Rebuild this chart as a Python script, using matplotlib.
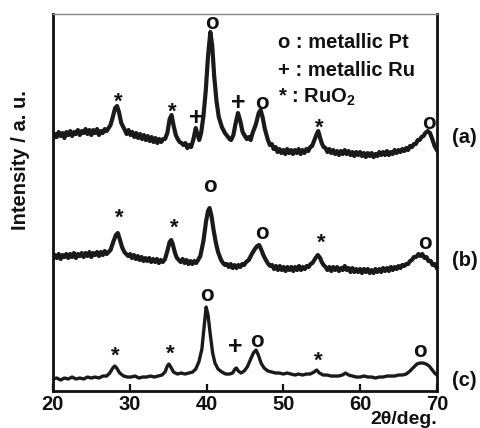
import matplotlib
matplotlib.use("Agg")
import matplotlib.pyplot as plt

plt.rcParams['font.family'] = ['Liberation Sans', 'DejaVu Sans']
plt.rcParams['font.weight'] = 'bold'
plt.rcParams['mathtext.fontset'] = 'custom'
plt.rcParams['mathtext.rm'] = 'Liberation Sans:bold'
plt.rcParams['mathtext.bf'] = 'Liberation Sans:bold'

# pattern (a), 2theta vs offset intensity (arbitrary units)
a_x = [20.0, 20.25, 20.5, 20.75, 21.0, 21.25, 21.5, 21.75, 22.0, 22.25, 22.5, 22.75, 23.0,
       23.25, 23.5, 23.75, 24.0, 24.25, 24.5, 24.75, 25.0, 25.25, 25.5, 25.75, 26.0, 26.25,
       26.5, 26.75, 27.0,
       27.5, 27.8, 28.1, 28.35, 28.6, 28.9, 29.3, 29.6, 29.85, 30.1, 30.35, 30.6, 30.85,
       31.1, 31.35, 31.6, 31.85, 32.1, 32.35, 32.6, 32.85, 33.1, 33.35, 33.6, 33.85, 34.1,
       34.35, 34.6, 34.9, 35.2, 35.45, 35.7, 36.0, 36.25, 36.5, 36.75, 37.0, 37.25, 37.5,
       37.75, 38.0, 38.3, 38.6, 38.85, 39.05, 39.3, 39.6, 39.9, 40.2, 40.5, 40.75, 41.0,
       41.3, 41.6, 42.0, 42.2, 42.4, 42.6, 42.8, 43.0, 43.2, 43.5, 43.8, 44.1, 44.4, 44.7,
       45.0, 45.25, 45.5, 45.75, 46.0, 46.4, 46.8, 47.05, 47.3, 47.6,
       48.0, 48.25, 48.5, 48.75, 49.0, 49.25, 49.5, 49.75, 50.0, 50.25, 50.5, 50.75, 51.0,
       51.25, 51.5, 51.75, 52.0, 52.25, 52.5, 52.75, 53.0, 53.25, 53.5, 53.75, 54.0, 54.3,
       54.55, 54.8, 55.0, 55.25, 55.5, 55.75, 56.0, 56.25, 56.5, 56.75, 57.0, 57.25, 57.5,
       57.75, 58.0, 58.25, 58.5, 58.75, 59.0, 59.25, 59.5, 59.75, 60.0, 60.25, 60.5, 60.75,
       61.0, 61.25, 61.5, 61.75, 62.0, 62.25, 62.5, 62.75, 63.0, 63.25, 63.5, 63.75, 64.0,
       64.25, 64.5, 64.75, 65.0, 65.25, 65.5, 65.75, 66.0, 66.25, 66.5, 66.75, 67.0, 67.25,
       67.5, 67.75, 68.0, 68.25, 68.5, 68.8, 69.1, 69.4, 69.7, 70.0]
a_y = [252, 257, 254, 259, 255, 258, 253, 259, 256, 260, 255, 259, 257,
       261, 256, 260, 258, 262, 257, 261, 256, 261, 258, 262, 256, 260,
       258, 262, 260,
       266, 274, 283, 285, 279, 268, 262, 257, 261, 256, 259, 254, 258,
       253, 257, 252, 256, 251, 255, 250, 254, 249, 253, 248, 252, 249,
       252, 252, 258, 272, 276, 266, 256, 252, 249, 248, 246, 248, 243,
       246, 244, 252, 263, 256, 251, 258, 275, 300, 335, 359, 345, 315,
       290, 274, 264, 261, 258, 256, 254, 252, 251, 256, 268, 278, 270, 259,
       255, 252, 254, 251, 258, 266, 278, 281, 274, 262,
       251, 246, 247, 242, 244, 239, 242, 238, 241, 237, 242, 238, 241,
       237, 241, 238, 242, 237, 241, 238, 242, 240, 244, 245, 250, 256,
       260, 253, 248, 244, 243, 239, 242, 238, 241, 237, 240, 236, 240,
       237, 241, 237, 240, 236, 239, 235, 239, 236, 239, 235, 238, 234,
       238, 235, 238, 234, 237, 235, 239, 236, 239, 236, 240, 236, 239,
       237, 241, 238, 241, 239, 242, 240, 243, 241, 245, 244, 247, 247,
       251, 251, 254, 255, 258, 260, 258, 252, 245, 241]

# pattern (b)
b_x = [20.0, 20.25, 20.5, 20.75, 21.0, 21.25, 21.5, 21.75, 22.0, 22.25, 22.5, 22.75, 23.0,
       23.25, 23.5, 23.75, 24.0, 24.25, 24.5, 24.75, 25.0, 25.25, 25.5, 25.75, 26.0, 26.25,
       26.5, 26.75, 27.0, 27.25,
       27.5, 27.9, 28.2, 28.45, 28.7, 29.0, 29.3, 29.55, 29.8, 30.05, 30.3, 30.55, 30.8,
       31.05, 31.3, 31.55, 31.8, 32.05, 32.3, 32.55, 32.8, 33.05, 33.3, 33.55, 33.8, 34.05,
       34.3, 34.6, 34.9, 35.2, 35.4, 35.6, 35.9, 36.15, 36.4, 36.65, 36.9, 37.15, 37.4,
       37.65, 37.9, 38.15, 38.4, 38.65, 38.9, 39.2, 39.6, 39.95, 40.2, 40.4, 40.65, 40.9,
       41.2, 41.5, 41.9, 42.15, 42.4, 42.65, 42.9, 43.15, 43.4, 43.65, 43.9, 44.15, 44.4,
       44.65, 44.9, 45.15, 45.5, 45.9, 46.3, 46.6, 46.85, 47.1, 47.4, 47.8, 48.05, 48.3,
       48.55, 48.8, 49.05, 49.3, 49.55, 49.8, 50.05, 50.3, 50.55, 50.8, 51.05, 51.3, 51.55,
       51.8, 52.05, 52.3, 52.55, 52.8, 53.05, 53.3, 53.55, 53.8, 54.2, 54.5, 54.8, 55.0,
       55.25, 55.5, 55.75, 56.0, 56.25, 56.5, 56.75, 57.0, 57.25, 57.5, 57.75, 58.0, 58.25,
       58.5, 58.75, 59.0, 59.25, 59.5, 59.75, 60.0, 60.25, 60.5, 60.75, 61.0, 61.25, 61.5,
       61.75, 62.0, 62.25, 62.5, 62.75, 63.0, 63.25, 63.5, 63.75, 64.0, 64.25, 64.5, 64.75,
       65.0, 65.25, 65.5, 65.75, 66.0, 66.25, 66.5, 66.75, 67.0, 67.3, 67.6, 67.85, 68.1,
       68.4, 68.65, 68.9, 69.2, 69.45, 69.7, 70.0]
b_y = [132, 136, 133, 137, 132, 136, 134, 137, 133, 137, 134, 138, 133,
       137, 135, 138, 134, 138, 135, 139, 134, 138, 136, 139, 135, 139,
       136, 140, 137, 139,
       141, 150, 156, 158, 152, 144, 139, 137, 135, 137, 133, 136, 132,
       135, 131, 134, 130, 133, 130, 133, 129, 132, 129, 132, 128, 131,
       129, 132, 140, 149, 151, 147, 138, 133, 131, 129, 132, 128, 131,
       127, 130, 127, 130, 128, 131, 135, 150, 170, 180, 183, 175, 162,
       149, 139, 131, 128, 126, 127, 124, 127, 123, 126, 123, 126, 124,
       127, 126, 129, 131, 137, 142, 145, 146, 142, 136, 130, 127, 125,
       126, 122, 125, 121, 125, 121, 124, 120, 124, 121, 124, 120, 124,
       121, 125, 121, 124, 122, 125, 124, 127, 128, 133, 136, 133, 129,
       126, 124, 121, 124, 120, 124, 121, 124, 120, 123, 121, 125, 121,
       123, 119, 123, 119, 122, 119, 122, 118, 122, 119, 122, 118, 121,
       118, 122, 119, 122, 119, 123, 120, 123, 120, 124, 121, 124, 122,
       125, 123, 126, 125, 127, 127, 130, 131, 134, 134, 137, 135, 137,
       133, 134, 130, 130, 126, 127, 123]

# pattern (c)
c_x = [20.0, 20.5, 21.0, 21.5, 22.0, 22.5, 23.0, 23.5, 24.0, 24.5, 25.0, 25.5, 26.0, 26.5,
       27.0, 27.4, 27.8, 28.05, 28.3, 28.7, 29.2, 29.7, 30.2, 30.7, 31.2, 31.7, 32.2, 32.7,
       33.2, 33.7, 34.2, 34.6, 34.9, 35.1, 35.35, 35.7, 36.2, 36.7, 37.2, 37.7, 38.2, 38.6,
       39.0, 39.4, 39.7, 39.95, 40.2, 40.5, 40.8, 41.1, 41.5, 42.0, 42.5, 43.0, 43.4, 43.7,
       43.9, 44.15, 44.5, 44.9, 45.3, 45.7, 46.1, 46.45, 46.75, 47.1, 47.5, 48.0, 48.5, 49.0,
       49.5, 50.0, 50.5, 51.0, 51.5, 52.0, 52.5, 53.0, 53.5, 54.0, 54.35, 54.7, 55.2, 55.7,
       56.2, 56.7, 57.2, 57.7, 58.1, 58.5, 59.0, 59.5, 60.0, 60.5, 61.0, 61.5, 62.0, 62.5,
       63.0, 63.5, 64.0, 64.5, 65.0, 65.5, 66.0, 66.5, 67.0, 67.4, 67.8, 68.2, 68.6, 69.0,
       69.4, 69.7, 70.0]
c_y = [12, 13, 11, 13, 12, 14, 12, 13, 12, 14, 13, 14, 13, 15,
       15, 18, 23, 25, 23, 18, 15, 14, 14, 15, 13, 14, 14, 15,
       14, 15, 16, 19, 25, 27, 24, 19, 17, 18, 17, 18, 19, 22,
       29, 42, 65, 84, 76, 56, 38, 28, 22, 19, 17, 17, 18, 22,
       23, 20, 18, 20, 24, 31, 38, 41, 36, 28, 23, 20, 19, 18,
       18, 17, 18, 17, 16, 17, 16, 17, 17, 19, 21, 18, 16, 16,
       15, 15, 15, 16, 18, 16, 15, 14, 14, 15, 14, 14, 13, 14,
       14, 15, 15, 15, 16, 16, 17, 20, 24, 27, 28, 28, 27, 25,
       21, 18, 16]

# peak assignment symbols: (symbol, 2theta, height)
marks_a = [('*', 28.55, 294), ('*', 35.6, 284), ('+', 38.6, 273), ('o', 40.7, 368),
           ('+', 44.1, 288), ('o', 47.25, 288), ('*', 54.7, 268), ('o', 68.96, 268)]
marks_b = [('*', 28.7, 178), ('*', 35.85, 168), ('o', 40.5, 205), ('o', 47.2, 158),
           ('*', 54.9, 153), ('o', 68.4, 148)]
marks_c = [('*', 28.1, 40), ('*', 35.3, 42), ('o', 40.05, 96), ('+', 43.8, 44),
           ('o', 46.6, 50), ('*', 54.5, 35), ('o', 67.8, 40)]

legend_lines = ['o : metallic Pt', '+ : metallic Ru', r'* : RuO$_2$']
legend_y = [349, 321, 294]
side_labels = ['(a)', '(b)', '(c)']
side_y = [254, 131, 11]

fig = plt.figure(figsize=(4.81, 4.28), dpi=100)
ax = fig.add_axes([0.110, 0.0864, 0.7983, 0.8808])

for xs, ys in [(a_x, a_y), (b_x, b_y)]:
    ax.plot(xs, ys, color='#1a1a1a', lw=3.0, solid_joinstyle='round')
ax.plot(c_x, c_y, color='#1a1a1a', lw=2.4, solid_joinstyle='round')

sym_size = {'o': 16, '+': 18, '*': 16}
sym_dy = {'o': 0, '+': 0, '*': -5}
for marks in [marks_a, marks_b, marks_c]:
    for sym, x, y in marks:
        ax.text(x, y + sym_dy[sym], sym, ha='center', va='center',
                fontsize=sym_size[sym], fontweight='bold', color='#111111')

for t, y in zip(legend_lines, legend_y):
    ax.text(49.3, y, t, ha='left', va='center', fontsize=14.5,
            fontweight='bold', color='#111111')

for t, y in zip(side_labels, side_y):
    ax.text(73.6, y, t, ha='center', va='center', fontsize=14.5,
            fontweight='bold', color='#111111', clip_on=False)

ax.set_xlim(20, 70)
ax.set_ylim(0, 377)
ax.set_yticks([])
ax.set_xticks([20, 30, 40, 50, 60, 70])
ax.tick_params(axis='x', direction='in', length=5, width=1.6, pad=3,
               labelsize=14.5, colors='#111111')
for lab in ax.get_xticklabels():
    lab.set_fontweight('bold')
for side in ['left', 'bottom', 'right']:
    ax.spines[side].set_linewidth(2.0)
    ax.spines[side].set_color('#111111')
ax.spines['top'].set_linewidth(1.0)
ax.spines['top'].set_color('#888888')

fig.text(0.0416, 0.626, 'Intensity / a. u.', rotation=90, ha='center', va='center',
         fontsize=14.5, fontweight='bold', color='#111111')
fig.text(437 / 481, 1 - 420 / 428, '2\u03b8/deg.', ha='right', va='center',
         fontsize=14, fontweight='bold', color='#111111')

fig.savefig('out.png', dpi=100)
